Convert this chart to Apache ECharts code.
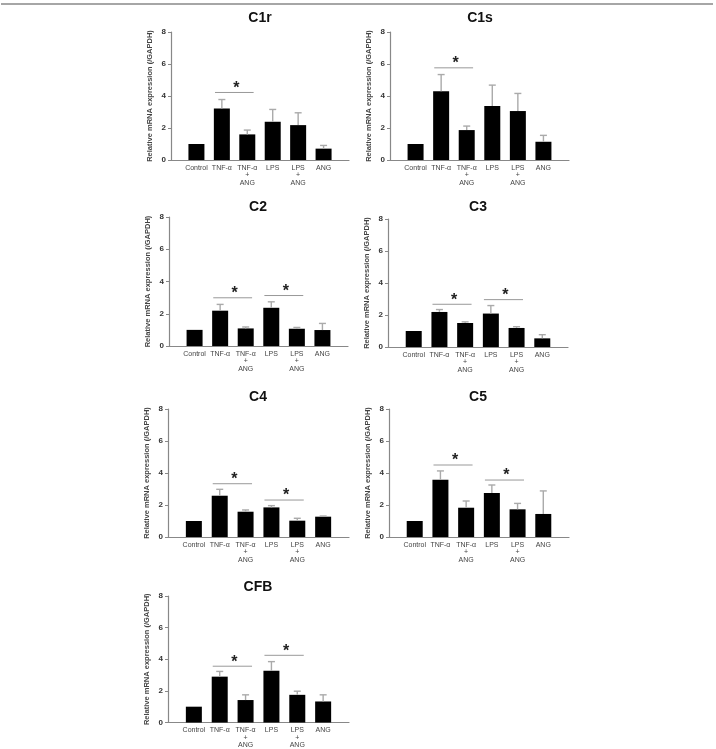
<!DOCTYPE html>
<html>
<head>
<meta charset="utf-8">
<script src="https://cdn.jsdelivr.net/npm/echarts@6/dist/echarts.min.js"></script>
<style>
    html, body { margin: 0; padding: 0; background: #fff; }
    #chart1 { width: 716px; height: 749px; }
</style>
</head>
<body>
<div id="chart1"></div>
<script>
// group names on x axis
var categories = ['Control', 'TNF-α', 'TNF-α\n+\nANG', 'LPS', 'LPS\n+\nANG', 'ANG'];
var yTicks = [0, 2, 4, 6, 8];
var panelNames = ['C1r', 'C1s', 'C2', 'C3', 'C4', 'C5', 'CFB'];

// mean values
var c1rMean = [1.0, 3.22, 1.6, 2.39, 2.18, 0.71];
var c1sMean = [1.0, 4.3, 1.87, 3.37, 3.06, 1.14];
var c2Mean = [1.0, 2.19, 1.09, 2.37, 1.07, 0.99];
var c3Mean = [1.0, 2.19, 1.5, 2.09, 1.19, 0.54];
var c4Mean = [1.0, 2.58, 1.58, 1.85, 1.02, 1.27];
var c5Mean = [1.0, 3.58, 1.83, 2.75, 1.73, 1.44];
var cfbMean = [1.0, 2.9, 1.42, 3.27, 1.75, 1.33];

// upper error (SD)
var c1rErr = [0, 0.56, 0.27, 0.77, 0.77, 0.2];
var c1sErr = [0, 1.04, 0.25, 1.31, 1.1, 0.4];
var c2Err = [0, 0.39, 0.09, 0.37, 0.08, 0.41];
var c3Err = [0, 0.15, 0.07, 0.5, 0.08, 0.23];
var c4Err = [0, 0.4, 0.11, 0.11, 0.15, 0.04];
var c5Err = [0, 0.55, 0.42, 0.5, 0.37, 1.44];
var cfbErr = [0, 0.33, 0.33, 0.58, 0.23, 0.42];

// significance brackets: [from group, to group, height]
var c1rSig = [[1, 2, 4.22]];
var c1sSig = [[1, 2, 5.76]];
var c2Sig = [[1, 2, 2.99], [3, 4, 3.13]];
var c3Sig = [[1, 2, 2.67], [3, 4, 2.96]];
var c4Sig = [[1, 2, 3.33], [3, 4, 2.31]];
var c5Sig = [[1, 2, 4.5], [3, 4, 3.56]];
var cfbSig = [[1, 2, 3.56], [3, 4, 4.25]];

var means = [c1rMean, c1sMean, c2Mean, c3Mean, c4Mean, c5Mean, cfbMean];
var errs = [c1rErr, c1sErr, c2Err, c3Err, c4Err, c5Err, cfbErr];
var sigs = [c1rSig, c1sSig, c2Sig, c3Sig, c4Sig, c5Sig, cfbSig];

// panel layout: [left, top, width, height, titleX, titleY]
var panels = [
    [171, 32, 178, 128, 260, 18],
    [390, 32, 179, 128, 480, 18],
    [169, 217, 179, 129, 258, 207],
    [388, 219, 180, 128, 478, 207],
    [168, 409, 181, 128, 258, 397],
    [389, 409, 180, 128, 478, 397],
    [168, 596, 181, 128, 258, 587]
];

var chart1 = echarts.init(document.getElementById('chart1'));
var font = 'Liberation Sans, Arial, sans-serif';
// empty slot on each side so the axis runs past the first and last bar
var axisData = [''].concat(categories).concat(['']);

function errorItem(params, api) {
    var p0 = api.coord([api.value(0), api.value(1)]);
    var p1 = api.coord([api.value(0), api.value(2)]);
    if (Math.abs(p0[1] - p1[1]) < 0.5) return;
    var st = { stroke: '#aaa', lineWidth: 1.4 };
    return {
        type: 'group',
        children: [
            { type: 'line', shape: { x1: p0[0], y1: p0[1], x2: p1[0], y2: p1[1] }, style: st },
            { type: 'line', shape: { x1: p1[0] - 3.5, y1: p1[1], x2: p1[0] + 3.5, y2: p1[1] }, style: st }
        ]
    };
}

function sigItem(params, api) {
    var a = api.coord([api.value(0), api.value(2)]);
    var b = api.coord([api.value(1), api.value(2)]);
    var band = api.size([1, 0])[0];
    var x1 = a[0] - 0.27 * band, x2 = b[0] + 0.25 * band;
    return {
        type: 'group',
        children: [
            { type: 'line', shape: { x1: x1, y1: a[1], x2: x2, y2: a[1] }, style: { stroke: '#999', lineWidth: 1 } },
            { type: 'text', x: (x1 + x2) / 2 + 2, y: a[1] + 4, style: {
                text: '*', fill: '#222', font: 'bold 16px ' + font, align: 'center', verticalAlign: 'bottom'
            } }
        ]
    };
}

var option = {
    animation: false,
    backgroundColor: '#fff',
    title: [],
    grid: [],
    xAxis: [],
    yAxis: [],
    series: [],
    graphic: [{
        type: 'line',
        shape: { x1: 1, y1: 4, x2: 713, y2: 4 },
        style: { stroke: '#888', lineWidth: 1.5 }
    }]
};

for (var i = 0; i < panels.length; i++) {
    var p = panels[i];
    option.title.push({
        text: panelNames[i], left: p[4], top: p[5], padding: 0,
        textAlign: 'center', textVerticalAlign: 'middle',
        textStyle: { fontFamily: font, fontSize: 14, fontWeight: 'bold', color: '#111' }
    });
    option.grid.push({ left: p[0], top: p[1], width: p[2], height: p[3] });
    option.xAxis.push({
        gridIndex: i, type: 'category', data: axisData, boundaryGap: false,
        axisLine: { lineStyle: { color: '#888', width: 1.2 } },
        axisTick: { show: false },
        axisLabel: { interval: 0, margin: 4, fontFamily: font, fontSize: 7, lineHeight: 7.5, color: '#444' }
    });
    option.yAxis.push({
        gridIndex: i, type: 'value', min: yTicks[0], max: yTicks[yTicks.length - 1], interval: 2,
        name: 'Relative mRNA expression (/GAPDH)', nameLocation: 'middle', nameGap: 17, nameRotate: 90,
        nameTextStyle: { fontFamily: font, fontSize: 7.5, fontWeight: 'bold', color: '#444' },
        axisLine: { show: true, lineStyle: { color: '#888', width: 1.2 } },
        axisTick: { show: true, length: 3, lineStyle: { color: '#888' } },
        axisLabel: { margin: 5, fontFamily: font, fontSize: 8, fontWeight: 'bold', color: '#333' },
        splitLine: { show: false }
    });

    var barData = [null], errData = [], sigData = [];
    for (var j = 0; j < categories.length; j++) {
        barData.push(means[i][j]);
        errData.push([j + 1, means[i][j], means[i][j] + errs[i][j]]);
    }
    barData.push(null);
    for (var k = 0; k < sigs[i].length; k++) {
        sigData.push([sigs[i][k][0] + 1, sigs[i][k][1] + 1, sigs[i][k][2]]);
    }

    option.series.push({
        type: 'bar', xAxisIndex: i, yAxisIndex: i, data: barData, barWidth: 16,
        itemStyle: { color: '#000' }
    });
    option.series.push({
        type: 'custom', xAxisIndex: i, yAxisIndex: i, data: errData,
        encode: { x: 0, y: [1, 2] }, renderItem: errorItem, z: 3
    });
    option.series.push({
        type: 'custom', xAxisIndex: i, yAxisIndex: i, data: sigData,
        encode: { x: [0, 1], y: 2 }, renderItem: sigItem, z: 3
    });
}

chart1.setOption(option, true);
</script>
</body>
</html>
